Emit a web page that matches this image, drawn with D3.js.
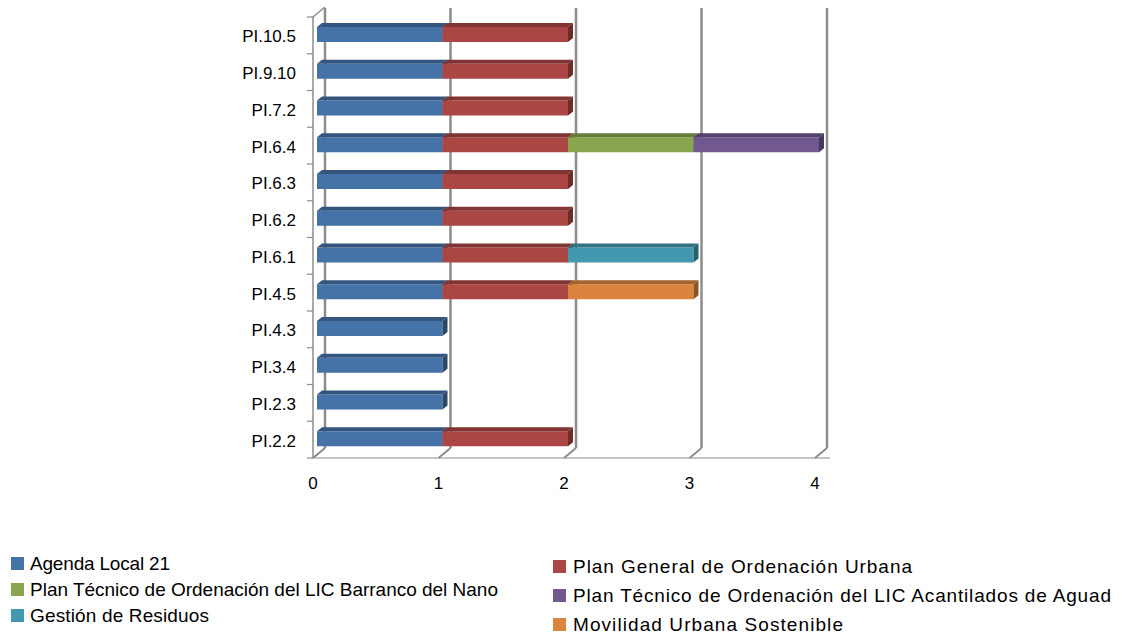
<!DOCTYPE html>
<html><head><meta charset="utf-8">
<script src="https://cdn.jsdelivr.net/npm/d3@7"></script>
<style>body{margin:0;background:#fff}svg{display:block}text{font-family:"Liberation Sans",Arial,sans-serif;fill:#000}</style>
</head><body>
<svg id="c" width="1124" height="636"></svg>
<script>
const categories = ["PI.10.5","PI.9.10","PI.7.2","PI.6.4","PI.6.3","PI.6.2","PI.6.1","PI.4.5","PI.4.3","PI.3.4","PI.2.3","PI.2.2"];
const seriesNames = ["Agenda Local 21","Plan General de Ordenación Urbana","Plan Técnico de Ordenación del LIC Barranco del Nano","Plan Técnico de Ordenación del LIC Acantilados de Aguad","Gestión  de Residuos","Movilidad Urbana Sostenible"];
const agenda     = [1,1,1,1,1,1,1,1,1,1,1,1];
const pgou       = [1,1,1,1,1,1,1,1,0,0,0,1];
const barranco   = [0,0,0,1,0,0,0,0,0,0,0,0];
const acantilados= [0,0,0,1,0,0,0,0,0,0,0,0];
const residuos   = [0,0,0,0,0,0,1,0,0,0,0,0];
const movilidad  = [0,0,0,0,0,0,0,1,0,0,0,0];
const tickValues = [0,1,2,3,4];
const colors = ["#4572A7","#AA4643","#89A54E","#71588F","#4198AF","#DB843D"];
const seriesValues = [agenda,pgou,barranco,acantilados,residuos,movilidad];

const svg = d3.select("#c");
const x = d3.scaleLinear().domain([0,4]).range([313,815]);
const y = d3.scaleBand().domain(categories).range([17,458]).padding(0);
const DX = 12, DY = -10;
const front = 458, topY = 17;
const grid = "#8c8c8c";

tickValues.forEach(t=>{
  const xx = x(t);
  svg.append("line").attr("x1",xx+DX).attr("x2",xx+DX).attr("y1",topY+DY+1).attr("y2",front+DY)
    .attr("stroke",grid).attr("stroke-width",2.5);
  svg.append("line").attr("x1",xx).attr("x2",xx+DX).attr("y1",front).attr("y2",front+DY)
    .attr("stroke",grid).attr("stroke-width",2);
});
svg.append("line").attr("x1",x(0)).attr("y1",topY).attr("x2",x(0)+DX).attr("y2",topY+DY)
  .attr("stroke",grid).attr("stroke-width",1.5);

const stack = d3.stack().keys(d3.range(seriesValues.length))
  .value((d,k)=>seriesValues[k][d])(d3.range(categories.length));
const bw = 15, ox = 4, oy = -3, tx = 5, ty = -4;
categories.forEach((c,i)=>{
  const yt = y(c) + 13 + oy;
  stack.forEach((layer,k)=>{
    const v0 = layer[i][0], v1 = layer[i][1];
    if (v1 - v0 <= 0) return;
    const x0 = x(v0)+ox, x1 = x(v1)+ox;
    const col = d3.color(colors[k]);
    const g = svg.append("g");
    g.append("rect").attr("x",x0).attr("y",yt).attr("width",x1-x0).attr("height",bw).attr("fill",colors[k]);
    g.append("path").attr("d",`M${x0},${yt}L${x0+tx},${yt+ty}L${x1+tx},${yt+ty}L${x1},${yt}Z`)
      .attr("fill",col.darker(0.8));
    g.append("path").attr("d",`M${x1},${yt}L${x1+tx},${yt+ty}L${x1+tx},${yt+ty+bw}L${x1},${yt+bw}Z`)
      .attr("fill",col.darker(1.3));
  });
});

svg.append("line").attr("x1",x(0)).attr("x2",x(4)+15).attr("y1",front).attr("y2",front).attr("stroke",grid).attr("stroke-width",1.2);
svg.append("line").attr("x1",x(0)).attr("x2",x(0)).attr("y1",topY).attr("y2",front).attr("stroke",grid).attr("stroke-width",1.5);
d3.range(categories.length+1).forEach(i=>{
  const yy = topY + i*y.step();
  svg.append("line").attr("x1",x(0)-6).attr("x2",x(0)).attr("y1",yy).attr("y2",yy).attr("stroke",grid).attr("stroke-width",1.2);
});
svg.selectAll(".cl").data(categories).enter().append("text")
  .attr("x",296).attr("y",c=>y(c)+y.bandwidth()/2+7).attr("text-anchor","end")
  .attr("font-size",17).text(c=>c);
svg.selectAll(".tl").data(tickValues).enter().append("text")
  .attr("x",t=>x(t)).attr("y",489).attr("text-anchor","middle").attr("font-size",17).text(t=>t);

const legPos = [
  {sx:11, tx:30, cy:563, w:140},
  {sx:553, tx:573, cy:566, w:339},
  {sx:11, tx:30, cy:589, w:468},
  {sx:553, tx:573, cy:595, w:538},
  {sx:11, tx:30, cy:615, w:179},
  {sx:553, tx:573, cy:624, w:270}
];
seriesNames.forEach((n,k)=>{
  const p = legPos[k];
  svg.append("rect").attr("x",p.sx).attr("y",p.cy-6).attr("width",13).attr("height",13).attr("fill",colors[k]);
  svg.append("text").attr("x",p.tx).attr("y",p.cy+7).attr("font-size",19)
    .attr("textLength",p.w).attr("lengthAdjust","spacing").text(n);
});
</script>
</body></html>
